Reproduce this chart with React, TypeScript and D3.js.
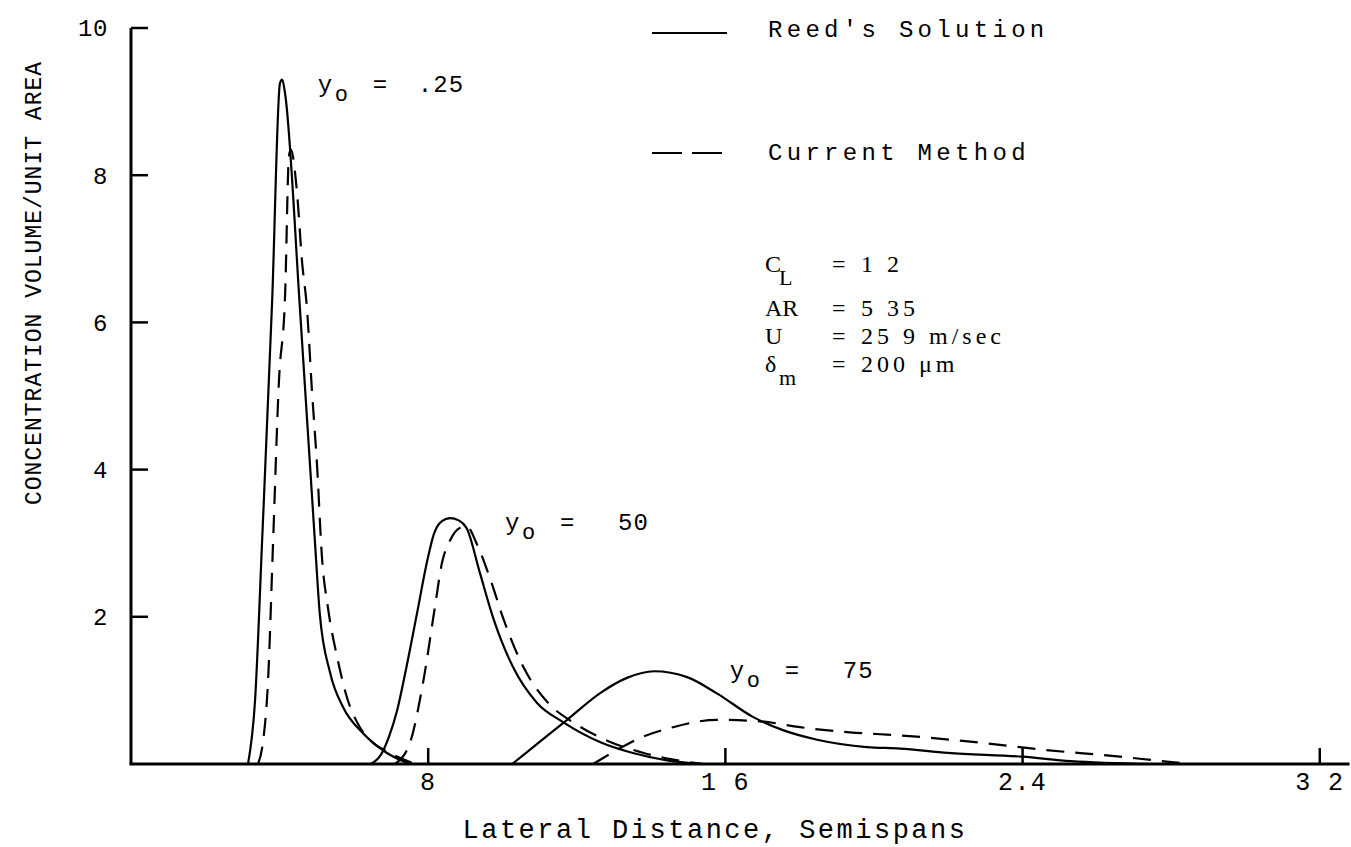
import React from "react";
import * as d3 from "d3";

// ---- data ----
const reed25X = [0.315, 0.334, 0.353, 0.380, 0.401, 0.407, 0.415, 0.455, 0.496, 0.508, 0.536, 0.571, 0.624, 0.689, 0.751];
const reed25Y = [0, 0.87, 3.04, 6.30, 9.25, 9.30, 9.10, 6.17, 2.95, 2.05, 1.24, 0.77, 0.42, 0.15, 0];

const curr25X = [0.342, 0.355, 0.369, 0.382, 0.398, 0.415, 0.425, 0.430, 0.447, 0.460, 0.474, 0.487, 0.501, 0.514, 0.530, 0.555, 0.581, 0.616, 0.651, 0.697, 0.765];
const curr25Y = [0, 0.29, 1.14, 2.95, 5.18, 6.40, 8.25, 8.35, 7.76, 6.85, 6.17, 5.08, 4.04, 2.81, 2.13, 1.45, 0.91, 0.50, 0.29, 0.15, 0];

const reed50X = [0.646, 0.672, 0.695, 0.716, 0.740, 0.770, 0.797, 0.815, 0.837, 0.859, 0.882, 0.904, 0.939, 0.974, 1.028, 1.093, 1.163, 1.262, 1.351, 1.443, 1.532];
const reed50Y = [0, 0.12, 0.38, 0.72, 1.28, 2.05, 2.75, 3.12, 3.30, 3.34, 3.31, 3.20, 2.60, 2.00, 1.32, 0.83, 0.57, 0.30, 0.15, 0.05, 0];

const curr50X = [0.711, 0.751, 0.786, 0.818, 0.837, 0.859, 0.886, 0.904, 0.930, 0.968, 1.004, 1.058, 1.123, 1.195, 1.290, 1.380, 1.460, 1.540];
const curr50Y = [0, 0.29, 1.10, 2.13, 2.73, 3.04, 3.21, 3.23, 3.00, 2.50, 1.95, 1.30, 0.83, 0.55, 0.30, 0.15, 0.06, 0];

const reed75X = [1.026, 1.100, 1.174, 1.262, 1.335, 1.408, 1.497, 1.577, 1.674, 1.755, 1.847, 1.981, 2.070, 2.199, 2.398, 2.530, 2.743];
const reed75Y = [0, 0.30, 0.60, 0.96, 1.17, 1.26, 1.18, 0.96, 0.64, 0.46, 0.33, 0.23, 0.21, 0.15, 0.10, 0.04, 0];

const curr75X = [1.244, 1.308, 1.378, 1.459, 1.577, 1.693, 1.801, 1.935, 2.067, 2.266, 2.463, 2.662, 2.794, 2.861];
const curr75Y = [0, 0.19, 0.37, 0.50, 0.60, 0.58, 0.50, 0.43, 0.39, 0.30, 0.19, 0.10, 0.03, 0];

const xTicks = [0.8, 1.6, 2.4, 3.2];
const xTickLabels = ["8", "1 6", "2.4", "3 2"];
const yTicks = [2, 4, 6, 8, 10];
const yTickLabels = ["2", "4", "6", "8", "10"];

const curveLabels = [".25", "50", "75"];
const curveLabelX = [0.503, 1.007, 1.612];
const curveLabelY = [9.13, 3.18, 1.17];

const paramNames = ["C", "AR", "U", "δ"];
const paramSubs = ["L", "", "", "m"];
const paramValues = ["1 2", "5 35", "25 9 m/sec", "200 μm"];

const legendLabels = ["Reed's Solution", "Current Method"];

const xTitle = "Lateral Distance, Semispans";
const yTitle = "CONCENTRATION VOLUME/UNIT AREA";

// ---- layout ----
const W = 1351;
const H = 847;
const x = d3.scaleLinear().domain([0, 3.28]).range([131, 1349.5]);
const y = d3.scaleLinear().domain([0, 10]).range([764, 28]);

const FONT = "'Liberation Mono', 'DejaVu Sans Mono', monospace";
const SERIF = "'Liberation Serif', 'DejaVu Serif', serif";

const line = d3
  .line<[number, number]>()
  .x((d) => x(d[0]))
  .y((d) => y(d[1]))
  .curve(d3.curveMonotoneX);

function zip(xs: number[], ys: number[]): [number, number][] {
  return xs.map((v, i) => [v, ys[i]]);
}

const solids = [zip(reed25X, reed25Y), zip(reed50X, reed50Y), zip(reed75X, reed75Y)];
const dashes = [zip(curr25X, curr25Y), zip(curr50X, curr50Y), zip(curr75X, curr75Y)];

const DASH = "18,11";

export default function App() {
  const paramBaselines = [272, 316, 344, 372];
  return (
    <svg
      width={W}
      height={H}
      style={{ position: "absolute", left: 0, top: 0, background: "#fff" }}
    >
      <rect x={0} y={0} width={W} height={H} fill="#fff" />
      {/* axes */}
      <line x1={x(0)} y1={y(10)} x2={x(0)} y2={y(0)} stroke="#000" strokeWidth={3} />
      <line x1={x(0) - 1.5} y1={y(0)} x2={x(3.28)} y2={y(0)} stroke="#000" strokeWidth={3} />
      {yTicks.map((t, i) => (
        <g key={"yt" + i}>
          <line x1={x(0)} x2={x(0) + 17} y1={y(t)} y2={y(t)} stroke="#000" strokeWidth={2.5} />
          <text
            x={108}
            y={y(t)}
            dy="0.35em"
            textAnchor="end"
            fontFamily={FONT}
            fontSize={24}
            letterSpacing={0.6}
            fill="#000"
          >
            {yTickLabels[i]}
          </text>
        </g>
      ))}
      {xTicks.map((t, i) => (
        <g key={"xt" + i}>
          <line x1={x(t)} x2={x(t)} y1={y(0)} y2={y(0) - 16} stroke="#000" strokeWidth={2.5} />
          <text
            x={x(t)}
            y={790}
            textAnchor="middle"
            fontFamily={FONT}
            fontSize={25}
            letterSpacing={1.3}
            fill="#000"
          >
            {xTickLabels[i]}
          </text>
        </g>
      ))}
      {/* axis titles */}
      <text
        x={715}
        y={838}
        textAnchor="middle"
        fontFamily={FONT}
        fontSize={27}
        letterSpacing={2.5}
        fill="#000"
      >
        {xTitle}
      </text>
      <text
        transform={`translate(41, 283) rotate(-90)`}
        textAnchor="middle"
        fontFamily={FONT}
        fontSize={23}
        letterSpacing={1}
        fill="#000"
      >
        {yTitle}
      </text>

      {/* curves */}
      {solids.map((s, i) => (
        <path key={"s" + i} d={line(s) || ""} fill="none" stroke="#000" strokeWidth={2.2} />
      ))}
      {dashes.map((s, i) => (
        <path
          key={"d" + i}
          d={line(s) || ""}
          fill="none"
          stroke="#000"
          strokeWidth={2.2}
          strokeDasharray={DASH}
        />
      ))}

      {/* curve labels */}
      {curveLabels.map((lab, i) => {
        const lx = x(curveLabelX[i]);
        const ly = y(curveLabelY[i]);
        return (
          <g key={"cl" + i} fontFamily={FONT} fill="#000">
            <text x={lx} y={ly} fontSize={24}>y</text>
            <text x={lx + 17} y={ly + 9} fontSize={22}>o</text>
            <text x={lx + 55} y={ly} fontSize={24}>=</text>
            <text x={lx + (lab.startsWith(".") ? 100 : 113)} y={ly} fontSize={24} letterSpacing={1}>
              {lab}
            </text>
          </g>
        );
      })}

      {/* legend */}
      <line x1={652} x2={727} y1={33} y2={33} stroke="#000" strokeWidth={2.2} />
      <line x1={652} x2={727} y1={153} y2={153} stroke="#000" strokeWidth={2.2} strokeDasharray="30,10" />
      <text x={768} y={37} fontFamily={FONT} fontSize={24} letterSpacing={4.3} fill="#000">
        {legendLabels[0]}
      </text>
      <text x={768} y={160} fontFamily={FONT} fontSize={24} letterSpacing={4.3} fill="#000">
        {legendLabels[1]}
      </text>

      {/* parameters */}
      {paramNames.map((n, i) => (
        <g key={"p" + i} fill="#000" fontFamily={SERIF}>
          <text x={765} y={paramBaselines[i]} fontSize={24}>
            {n}
          </text>
          {paramSubs[i] && (
            <text x={779} y={paramBaselines[i] + 13} fontSize={22}>
              {paramSubs[i]}
            </text>
          )}
          <text x={832} y={paramBaselines[i]} fontSize={24}>
            =
          </text>
          <text x={861} y={paramBaselines[i]} fontSize={24} letterSpacing={4} style={{ whiteSpace: "pre" }}>
            {paramValues[i]}
          </text>
        </g>
      ))}
    </svg>
  );
}
